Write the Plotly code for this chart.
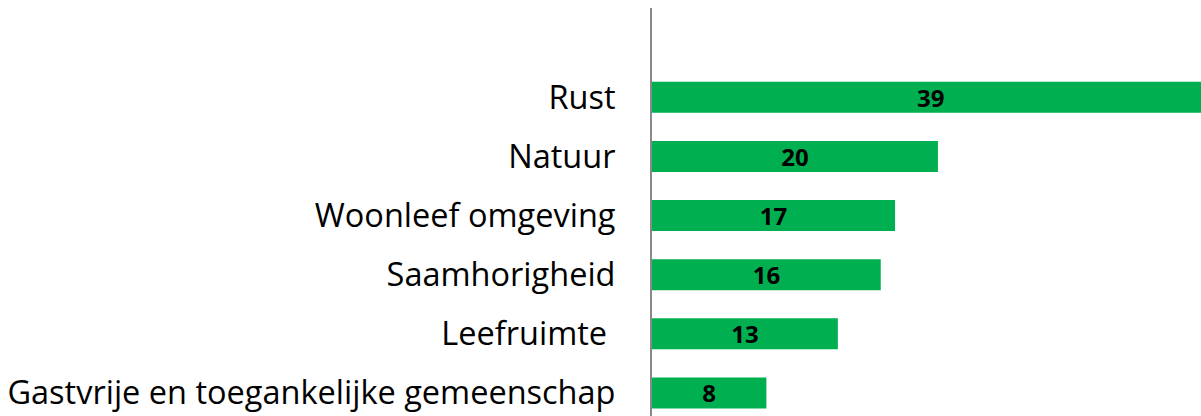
import plotly.graph_objects as go

categories = ["Rust", "Natuur", "Woonleef omgeving", "Saamhorigheid", "Leefruimte\u00a0",
              "Gastvrije en toegankelijke gemeenschap"]
values = [39, 20, 17, 16, 13, 8]

fig = go.Figure(go.Bar(
    x=values, y=categories, orientation="h",
    marker=dict(color="#00B050", line=dict(width=0)),
    width=0.525,
    text=[str(v) for v in values],
    textposition="inside", insidetextanchor="middle", textangle=0,
    constraintext="none",
    textfont=dict(family="Open Sans", size=24, color="#000000", weight="bold"),
    cliponaxis=True,
))

fig.update_layout(
    width=1201, height=416,
    margin=dict(l=652, r=0, t=8, b=0),
    paper_bgcolor="white", plot_bgcolor="white",
    showlegend=False,
    uniformtext=dict(mode=False),
    xaxis=dict(range=[0, 38.4], showgrid=False, zeroline=False, showline=False,
               showticklabels=False, ticks=""),
    yaxis=dict(type="category", categoryorder="array", categoryarray=categories,
               range=[5.39, -1.51], showgrid=False, zeroline=False,
               showline=True, linecolor="#898989", linewidth=2,
               ticks="", ticklabelstandoff=28,
               tickfont=dict(family="Open Sans", size=32.5, color="#000000")),
)

fig.write_html("out.html", config={"displayModeBar": False},
               post_script="document.body.style.margin='0';document.body.style.overflow='hidden';")
